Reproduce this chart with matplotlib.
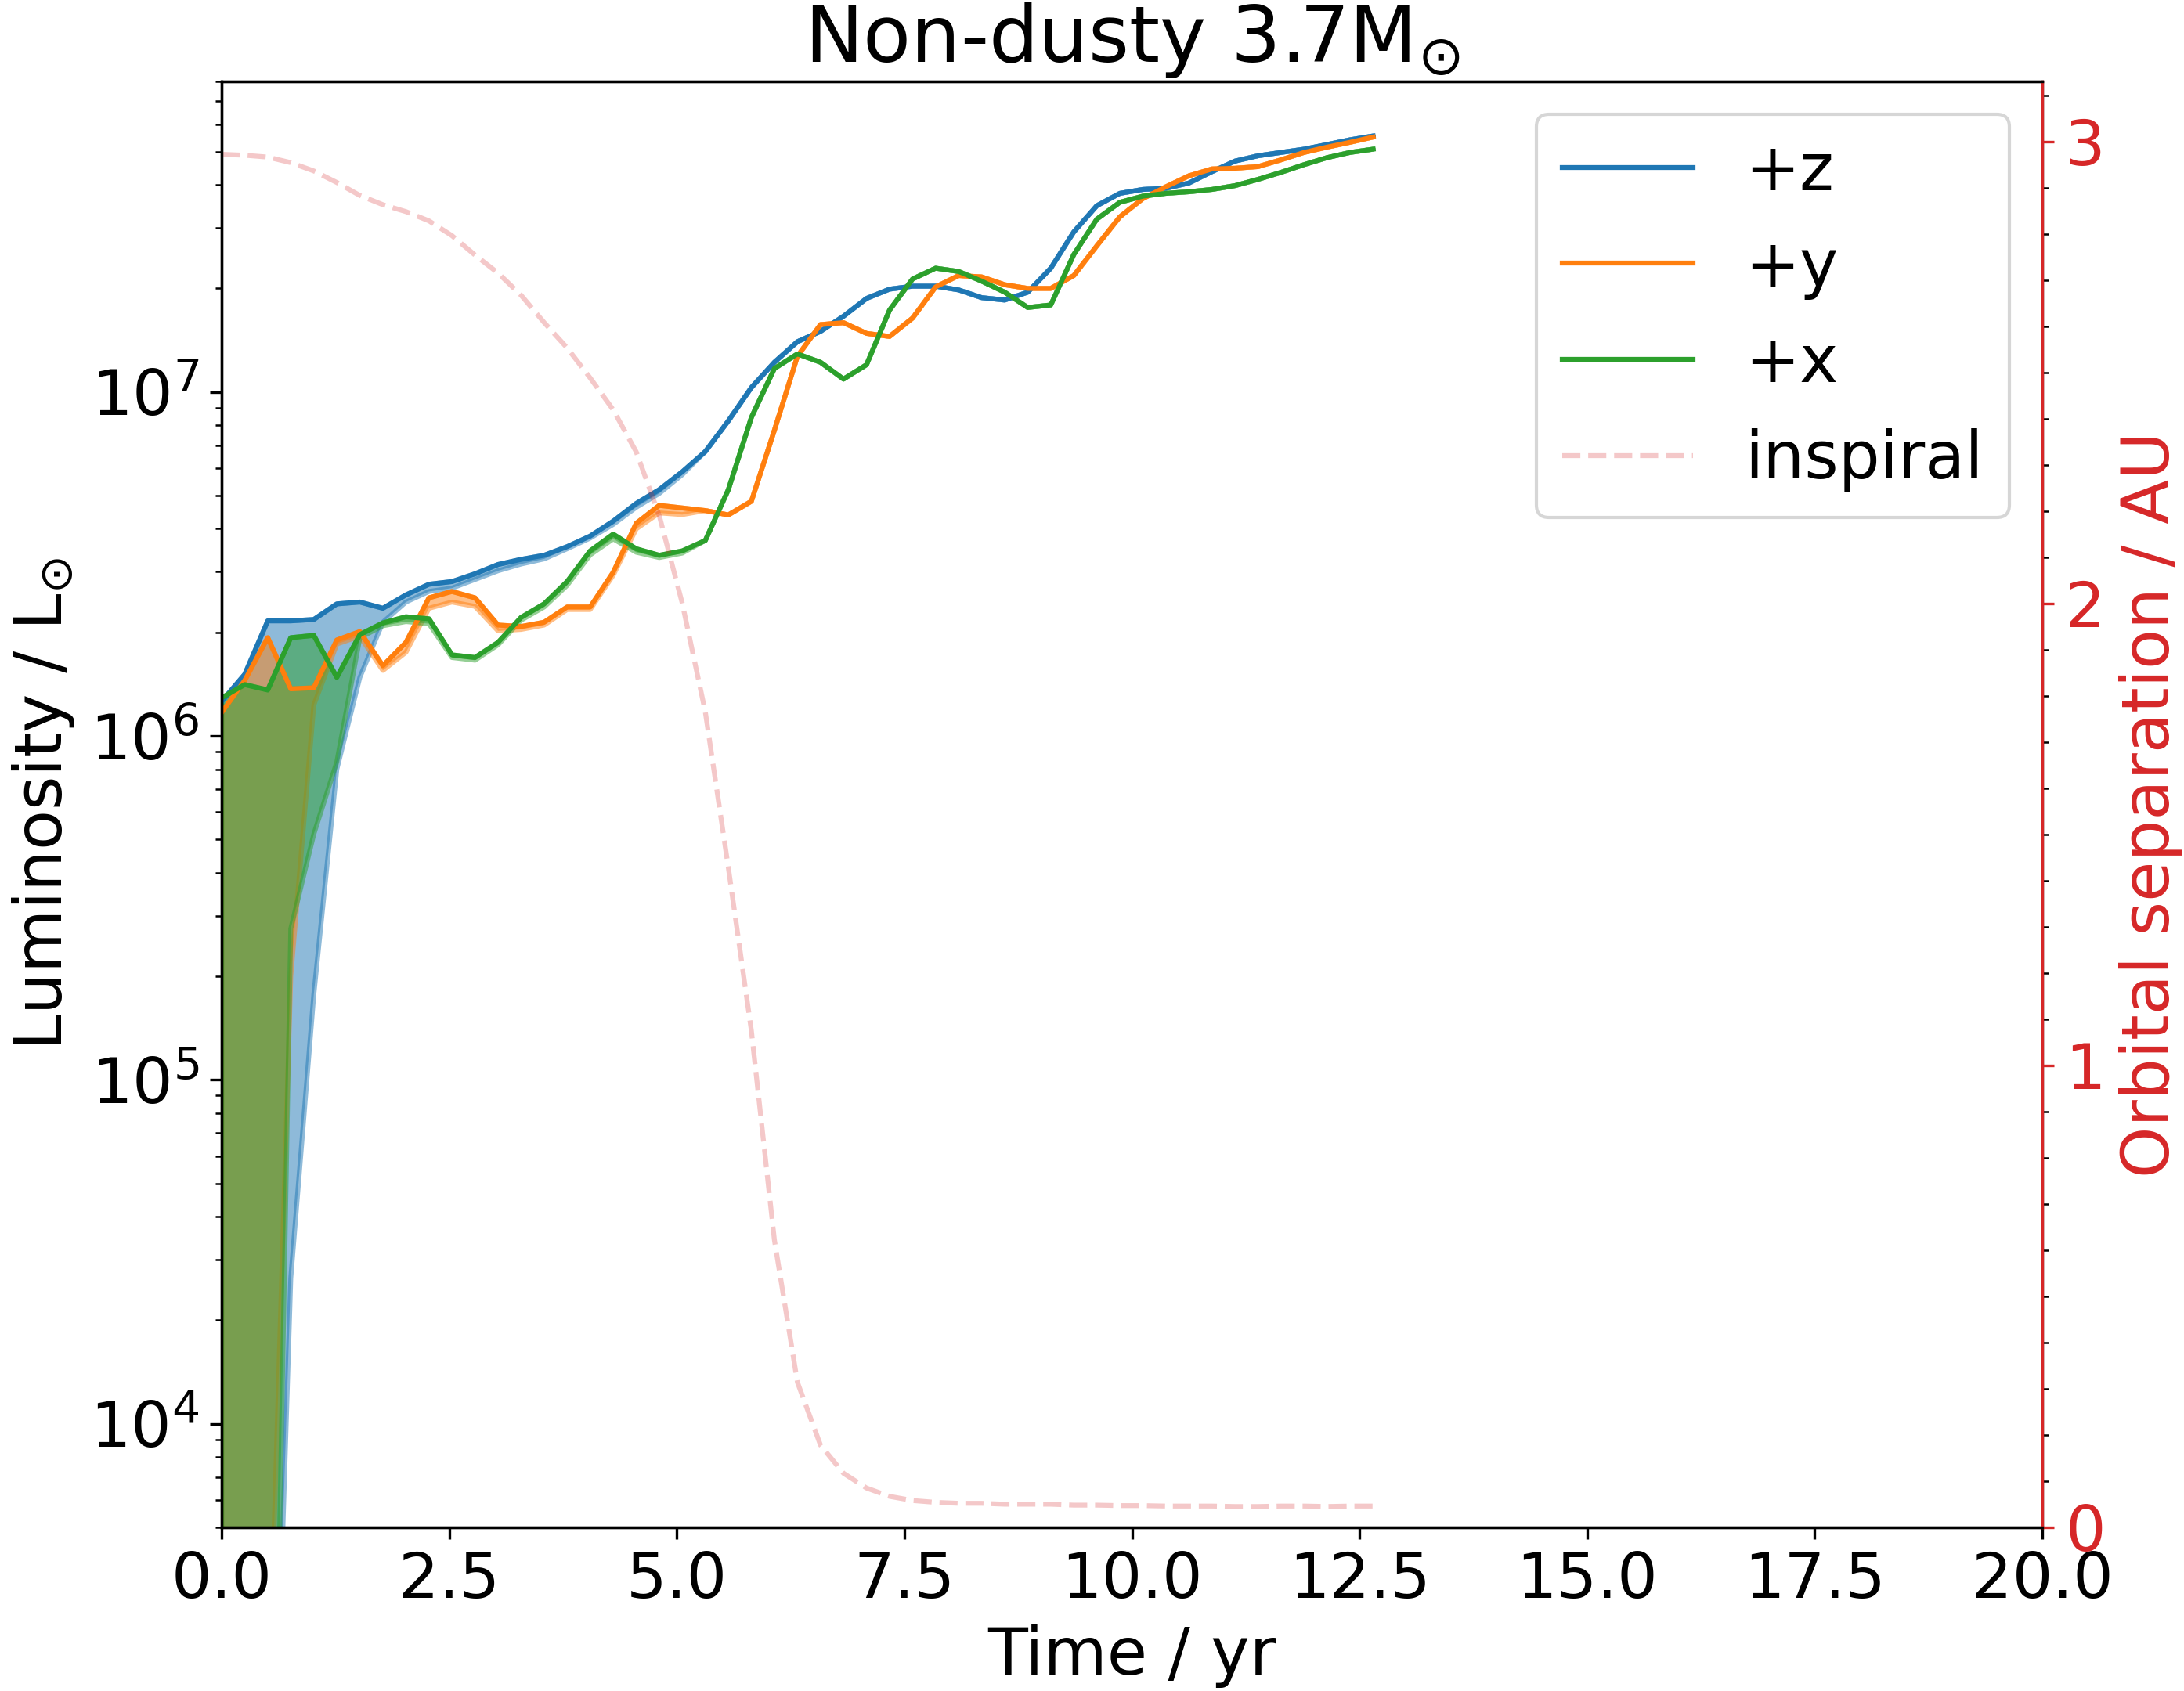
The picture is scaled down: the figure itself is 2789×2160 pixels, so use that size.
import matplotlib
matplotlib.use("Agg")
import matplotlib.pyplot as plt
import numpy as np
from matplotlib.ticker import MultipleLocator

# sample times (yr)
time_yr = [0.0, 0.253, 0.506, 0.759, 1.012, 1.265, 1.518, 1.771, 2.024, 2.277,
           2.53, 2.783, 3.036, 3.289, 3.542, 3.795, 4.048, 4.301, 4.554, 4.807,
           5.06, 5.313, 5.566, 5.819, 6.072, 6.325, 6.578, 6.831, 7.084, 7.337,
           7.59, 7.843, 8.096, 8.349, 8.602, 8.855, 9.108, 9.361, 9.614, 9.867,
           10.12, 10.373, 10.626, 10.879, 11.132, 11.385, 11.638, 11.891, 12.144, 12.397,
           12.65]

# luminosity along each viewing direction (Lsun)
lum_z = [1.26e6, 1.51e6, 2.16e6, 2.16e6, 2.18e6, 2.42e6, 2.45e6, 2.35e6, 2.57e6, 2.76e6,
         2.81e6, 2.96e6, 3.15e6, 3.26e6, 3.35e6, 3.55e6, 3.81e6, 4.21e6, 4.74e6, 5.20e6,
         5.86e6, 6.71e6, 8.24e6, 1.03e7, 1.22e7, 1.40e7, 1.50e7, 1.66e7, 1.87e7, 1.99e7,
         2.03e7, 2.03e7, 1.98e7, 1.88e7, 1.85e7, 1.95e7, 2.29e7, 2.92e7, 3.48e7, 3.78e7,
         3.88e7, 3.91e7, 4.05e7, 4.37e7, 4.69e7, 4.86e7, 4.97e7, 5.08e7, 5.24e7, 5.41e7,
         5.55e7]
lum_y = [1.17e6, 1.45e6, 1.93e6, 1.37e6, 1.38e6, 1.90e6, 2.01e6, 1.60e6, 1.87e6, 2.52e6,
         2.63e6, 2.52e6, 2.10e6, 2.08e6, 2.14e6, 2.37e6, 2.37e6, 2.99e6, 4.15e6, 4.68e6,
         4.60e6, 4.52e6, 4.39e6, 4.81e6, 7.74e6, 1.27e7, 1.57e7, 1.59e7, 1.48e7, 1.45e7,
         1.64e7, 2.02e7, 2.18e7, 2.16e7, 2.05e7, 2.00e7, 2.00e7, 2.18e7, 2.66e7, 3.23e7,
         3.65e7, 3.95e7, 4.25e7, 4.45e7, 4.47e7, 4.52e7, 4.73e7, 4.97e7, 5.15e7, 5.32e7,
         5.51e7]
lum_x = [1.29e6, 1.41e6, 1.36e6, 1.93e6, 1.96e6, 1.48e6, 1.97e6, 2.13e6, 2.22e6, 2.19e6,
         1.72e6, 1.69e6, 1.87e6, 2.21e6, 2.42e6, 2.81e6, 3.45e6, 3.86e6, 3.50e6, 3.35e6,
         3.45e6, 3.70e6, 5.20e6, 8.43e6, 1.17e7, 1.29e7, 1.22e7, 1.09e7, 1.20e7, 1.73e7,
         2.13e7, 2.29e7, 2.24e7, 2.10e7, 1.95e7, 1.76e7, 1.79e7, 2.51e7, 3.18e7, 3.56e7,
         3.71e7, 3.78e7, 3.82e7, 3.88e7, 3.98e7, 4.15e7, 4.35e7, 4.58e7, 4.80e7, 4.97e7,
         5.08e7]

# lower edge of the shaded band (early part; afterwards the band closes on the line)
low_z = [1e2, 1e2, 2e2, 2.65e4, 1.77e5, 8.0e5, 1.48e6, 2.14e6, 2.45e6, 2.63e6,
         2.69e6, 2.85e6, 3.02e6, 3.16e6, 3.27e6, 3.50e6, 3.76e6, 4.12e6, 4.62e6, 5.07e6,
         5.75e6]
low_y = [1e2, 1e2, 1.2e3, 2.0e5, 1.23e6, 1.85e6, 1.95e6, 1.55e6, 1.75e6, 2.35e6,
         2.45e6, 2.38e6, 2.02e6, 2.04e6, 2.10e6, 2.33e6, 2.33e6, 2.93e6, 4.00e6, 4.45e6,
         4.40e6]
low_x = [1e2, 1e2, 6.5e1, 2.75e5, 5.18e5, 8.4e5, 1.93e6, 2.09e6, 2.15e6, 2.12e6,
         1.69e6, 1.66e6, 1.84e6, 2.17e6, 2.37e6, 2.74e6, 3.36e6, 3.74e6, 3.42e6, 3.30e6,
         3.40e6]

# orbital separation (AU)
separation = [2.972, 2.970, 2.966, 2.954, 2.936, 2.911, 2.883, 2.863, 2.848, 2.828,
              2.796, 2.754, 2.715, 2.667, 2.608, 2.553, 2.488, 2.419, 2.328, 2.19,
              2.00, 1.765, 1.428, 1.075, 0.622, 0.314, 0.178, 0.117, 0.085, 0.067,
              0.058, 0.054, 0.052, 0.052, 0.050, 0.050, 0.050, 0.048, 0.048, 0.047,
              0.047, 0.046, 0.046, 0.046, 0.045, 0.045, 0.046, 0.046, 0.045, 0.046,
              0.046]

series = [("+z", lum_z, low_z, "tab:blue"),
          ("+y", lum_y, low_y, "tab:orange"),
          ("+x", lum_x, low_x, "tab:green")]

fig = plt.figure(figsize=(2789 / 300, 2160 / 300), dpi=300)
ax = fig.add_axes([0.1015, 0.0968, 0.8336, 0.8551])

t = np.array(time_yr)
for name, lum, low, col in series:
    lum = np.array(lum)
    lower = np.concatenate([low, lum[len(low):]])
    ax.fill_between(t, lower, lum, color=col, alpha=0.5, linewidth=1.5)
    ax.plot(t, lum, color=col, lw=1.5, label=name)

ax.set_yscale("log")
ax.set_ylim(5e3, 8e7)
ax.set_xlim(0, 20)
ax.set_xlabel("Time / yr", fontsize=20)
ax.set_ylabel(r"Luminosity / L$_{\odot}$", fontsize=20)
ax.tick_params(axis="both", which="major", labelsize=19.5)
ax.set_title(r"Non-dusty 3.7M$_{\odot}$", fontsize=24)

ax2 = ax.twinx()
ax2.plot(t, separation, "--", color="tab:red", alpha=0.25, lw=1.5, label="inspiral")
ax2.set_ylim(0, 3.13)
ax2.set_ylabel("Orbital separation / AU", color="tab:red", fontsize=20)
ax2.tick_params(axis="y", colors="tab:red", labelsize=19.5)
ax2.yaxis.set_major_locator(MultipleLocator(1))
ax2.yaxis.set_minor_locator(MultipleLocator(0.1))
ax2.spines["right"].set_color("tab:red")

h1, l1 = ax.get_legend_handles_labels()
h2, l2 = ax2.get_legend_handles_labels()
ax2.legend(h1 + h2, l1 + l2, loc="upper right", fontsize=20)

fig.savefig("out.png", dpi=300)
